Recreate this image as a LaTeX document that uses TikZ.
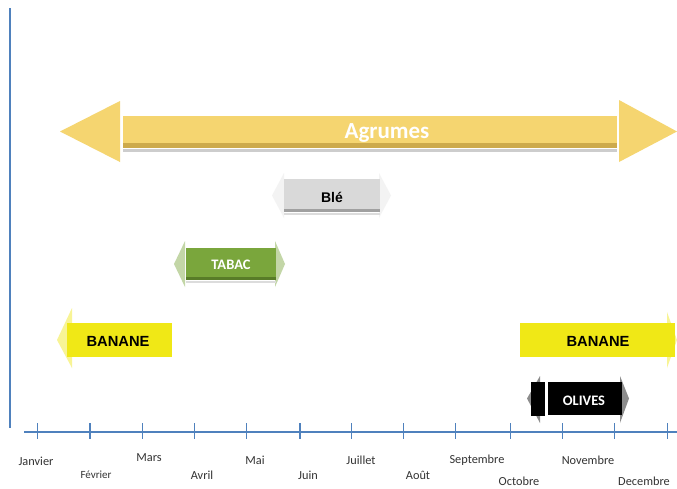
\documentclass[tikz,border=0pt]{standalone}
\usepackage{fontspec}
\setmainfont{Carlito}
\newfontfamily\arialfont{Liberation Sans}
\definecolor{axisblue}{RGB}{79,129,189}
\definecolor{agr}{RGB}{245,213,112}
\definecolor{agrdark}{RGB}{205,170,75}
\definecolor{blegray}{RGB}{217,217,217}
\definecolor{bledark}{RGB}{160,160,160}
\definecolor{tabac}{RGB}{122,166,60}
\definecolor{tabacdark}{RGB}{88,124,40}
\definecolor{banane}{RGB}{240,232,22}
\definecolor{shadowgray}{RGB}{205,205,205}
\begin{document}
\begin{tikzpicture}[x=1pt,y=-1pt,
  month/.style={inner sep=0pt,font=\fontsize{12.3}{14}\selectfont,text=black!80},
  barlabel/.style={inner sep=0pt,font=\bfseries\fontsize{#1}{#1}\selectfont},
  arlabel/.style={inner sep=0pt,font=\arialfont\bfseries\fontsize{#1}{#1}\selectfont},
  faint/.style={fill opacity=0.45}]
\useasboundingbox (0,0) rectangle (677,488);
\fill[white] (0,0) rectangle (677,488);
% axes
\draw[axisblue,line width=2pt] (9.5,8) -- (9.5,428);
\draw[axisblue,line width=1.8pt] (24,432) -- (677,432);
\foreach \x in {37.7,90,142.7,194.7,246.7,300,351.7,403.3,455.7,510.3,562.3,614.3,667.7}
  \draw[axisblue,line width=1.2pt] (\x,423) -- (\x,439);
% month labels
\node[month] (jan) at (36,461) {Janvier};
\node[month,font=\fontsize{11}{13}\selectfont] (feb) at (96,475) {Février};
\node[month] (mar) at (149,458) {Mars};
\node[month] (apr) at (202,475) {Avril};
\node[month] (may) at (255,460) {Mai};
\node[month] (jun) at (308,475) {Juin};
\node[month] (jul) at (361,460) {Juillet};
\node[month] (aug) at (418,475) {Août};
\node[month] (sep) at (477,460) {Septembre};
\node[month] (oct) at (519,481) {Octobre};
\node[month] (nov) at (588,460) {Novembre};
\node[month] (dec) at (644,481) {Decembre};
% Agrumes double arrow
\fill[agr] (60,131.5) -- (120,101) -- (120,162) -- cycle;
\fill[agr] (677,131.5) -- (619,100) -- (619,162) -- cycle;
\fill[agr] (123,116) rectangle (617,148);
\fill[agrdark] (123,143) rectangle (617,148);
\fill[shadowgray] (123,149) rectangle (617,151.5);
\node[barlabel=23,text=white] (agrumes) at (387,133) {Agrumes};
% Blé
\fill[blegray,fill opacity=0.3] (272,195.5) -- (284,173) -- (284,218) -- cycle;
\fill[blegray,fill opacity=0.3] (391,195.5) -- (379,173) -- (379,218) -- cycle;
\fill[blegray] (284,179) rectangle (380,212);
\fill[bledark] (284,208.5) rectangle (380,212);
\fill[shadowgray!70] (284,213) rectangle (380,215);
\node[arlabel=14,text=black] (ble) at (332,197) {Blé};
% TABAC
\fill[tabac,faint] (174,264) -- (185,241) -- (185,287) -- cycle;
\fill[tabac,faint] (285,264) -- (275,241) -- (275,287) -- cycle;
\fill[tabac] (186,248) rectangle (276,280);
\fill[tabacdark] (186,276.5) rectangle (276,280);
\fill[shadowgray!70] (186,281) rectangle (276,283);
\node[barlabel=14.5,text=white] (tabac) at (231,265) {TABAC};
% BANANE left
\fill[banane,faint] (57,340) -- (72,308) -- (72,368) -- cycle;
\fill[banane] (67,323) rectangle (172,357);
\node[arlabel=14.7,text=black] (banane1) at (118,341) {BANANE};
% BANANE right
\fill[banane] (520,323) rectangle (675,357);
\fill[banane,faint] (677,340) -- (667,312) -- (667,368) -- cycle;
\node[arlabel=14.7,text=black] (banane2) at (598,341) {BANANE};
% OLIVES
\fill[black,faint] (527,398.5) -- (540,376) -- (540,423) -- cycle;
\fill[black] (531,382) rectangle (545,416);
\fill[black] (548,382) rectangle (622,415);
\fill[black,faint] (629,398.5) -- (620,376) -- (620,423) -- cycle;
\node[barlabel=14.5,text=white] (olives) at (584,401) {OLIVES};
\end{tikzpicture}
\end{document}
